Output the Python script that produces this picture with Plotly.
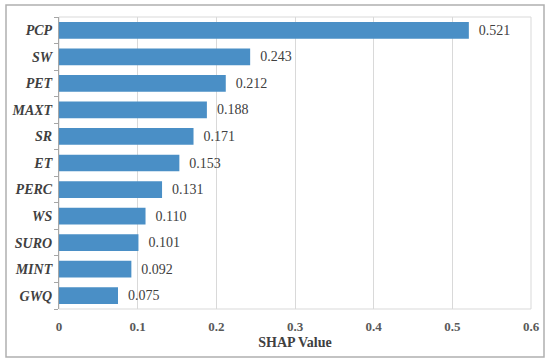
import plotly.graph_objects as go

features = ["PCP", "SW", "PET", "MAXT", "SR", "ET", "PERC", "WS", "SURO", "MINT", "GWQ"]
shap_values = [0.521, 0.243, 0.212, 0.188, 0.171, 0.153, 0.131, 0.110, 0.101, 0.092, 0.075]
x_ticks = [0, 0.1, 0.2, 0.3, 0.4, 0.5, 0.6]
x_tick_labels = ["0", "0.1", "0.2", "0.3", "0.4", "0.5", "0.6"]

SERIF = "Liberation Serif"

fig = go.Figure(go.Bar(
    x=shap_values,
    y=features,
    orientation="h",
    marker=dict(color="#4a8fc6", line=dict(width=0)),
    width=0.63,
    text=["\u00a0\u00a0" + f"{v:.3f}" for v in shap_values],
    textposition="outside",
    textfont=dict(family=SERIF, size=14, color="#404040"),
    cliponaxis=False,
))

L, R, T, B = 59, 19, 17, 52
W, H = 550, 361
pw, ph = W - L - R, H - T - B

fig.update_layout(
    width=W, height=H,
    margin=dict(l=L, r=R, t=T, b=B, pad=0, autoexpand=False),
    plot_bgcolor="white", paper_bgcolor="white",
    showlegend=False,
    bargap=0.37,
    xaxis=dict(
        range=[0, 0.6], tickvals=x_ticks, ticktext=x_tick_labels,
        showgrid=True, gridcolor="#d9d9d9", gridwidth=1,
        zeroline=False, showline=False, automargin=False,
        ticks="", ticklabelstandoff=8,
        tickfont=dict(family=SERIF, size=13, color="#595959", weight="bold"),
        title=dict(text="<b>SHAP Value</b>", standoff=4,
                   font=dict(family=SERIF, size=14, color="#404040")),
    ),
    yaxis=dict(
        categoryorder="array", categoryarray=features[::-1],
        showline=True, linecolor="#a6a6a6", linewidth=1, automargin=False,
        ticks="outside", tickson="boundaries", ticklen=4, tickcolor="#a6a6a6",
        ticklabelstandoff=3,
        showgrid=False, zeroline=False,
        tickfont=dict(family=SERIF, size=14, color="#404040",
                      weight="bold", style="italic"),
    ),
    shapes=[
        dict(type="rect", xref="paper", yref="paper", x0=0, x1=1, y0=0, y1=1,
             line=dict(color="#d9d9d9", width=1), layer="below"),
        dict(type="rect", xref="paper", yref="paper",
             x0=(6 - L) / pw, x1=(544 - L) / pw,
             y0=-(357 - (H - B)) / ph, y1=1 + (T - 5) / ph,
             line=dict(color="#b0b0b0", width=1.5)),
    ],
)

fig.write_html(
    "out.html",
    config={"displayModeBar": False},
    post_script="document.body.style.margin='0';document.body.style.overflow='hidden';",
)
